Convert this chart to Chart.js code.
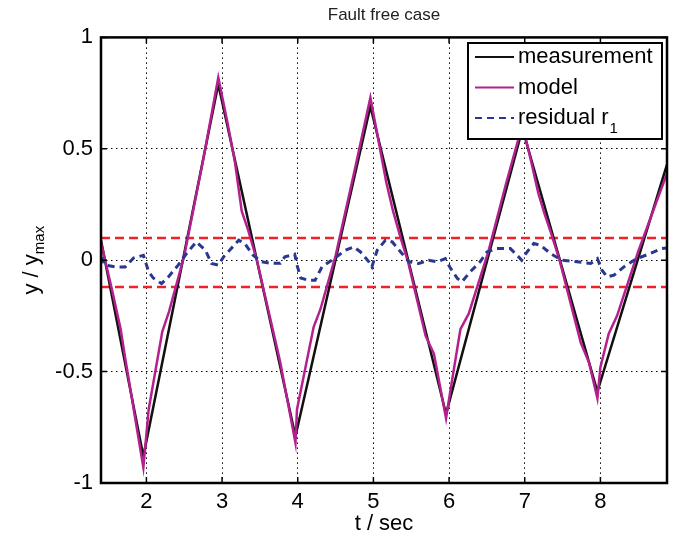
<!DOCTYPE html>
<html>
<head>
<meta charset="utf-8">
<script src="https://cdn.jsdelivr.net/npm/chart.js@4.4.1/dist/chart.umd.min.js"></script>
<style>
  body { margin: 0; background: #fff; }
  #wrap { width: 678px; height: 538px; }
</style>
</head>
<body>
<div id="wrap"><canvas id="myChart" width="678" height="538"></canvas></div>
<script>
// measurement (black)
const tMeas = [1.40, 1.96, 2.95, 3.97, 4.96, 5.96, 6.97, 7.96, 8.88];
const yMeas = [0.09, -0.88, 0.79, -0.79, 0.69, -0.69, 0.59, -0.59, 0.43];

// model (magenta)
const tModel = [1.40, 1.55, 1.66, 1.72, 1.96, 2.03, 2.21, 2.30, 2.50, 2.75, 2.95,
  3.07, 3.17, 3.26, 3.34, 3.46, 3.73, 3.77, 3.97, 3.99, 4.21, 4.30, 4.50, 4.75, 4.96,
  5.06, 5.17, 5.26, 5.36, 5.46, 5.69, 5.80, 5.96, 6.02, 6.15, 6.26, 6.52, 6.75, 6.97,
  7.08, 7.18, 7.26, 7.34, 7.46, 7.74, 7.85, 7.96, 8.00, 8.11, 8.22, 8.50, 8.75, 8.88];
const yModel = [0.08, -0.14, -0.31, -0.44, -0.93, -0.67, -0.32, -0.23, 0.02, 0.45, 0.82,
  0.62, 0.44, 0.22, 0.14, 0.00, -0.40, -0.46, -0.82, -0.67, -0.30, -0.22, 0.02, 0.40, 0.73,
  0.55, 0.35, 0.22, 0.10, -0.01, -0.34, -0.42, -0.71, -0.58, -0.31, -0.24, 0.04, 0.34, 0.61,
  0.45, 0.30, 0.21, 0.13, 0.00, -0.37, -0.46, -0.62, -0.48, -0.33, -0.25, 0.04, 0.27, 0.39];

// residual r1 (blue dashed)
const tRes = [1.40, 1.45, 1.59, 1.72, 1.83, 1.96, 2.03, 2.09, 2.20, 2.29, 2.42, 2.53, 2.66,
  2.78, 2.86, 2.95, 3.02, 3.10, 3.22, 3.30, 3.41, 3.52, 3.65, 3.77, 3.83, 3.96, 3.99, 4.04,
  4.14, 4.23, 4.32, 4.48, 4.63, 4.74, 4.83, 4.94, 4.98, 5.05, 5.16, 5.25, 5.36, 5.47, 5.60,
  5.73, 5.84, 5.95, 6.02, 6.11, 6.17, 6.28, 6.41, 6.50, 6.63, 6.81, 6.90, 6.96, 7.03, 7.12,
  7.21, 7.34, 7.49, 7.69, 7.87, 7.96, 8.02, 8.09, 8.18, 8.31, 8.48, 8.66, 8.81, 8.88];
const yRes = [0.015, -0.022, -0.03, -0.03, 0.01, 0.022, -0.052, -0.08, -0.105, -0.075, -0.022, 0.03, 0.082,
  0.045, -0.015, -0.022, 0.015, 0.045, 0.09, 0.075, 0.022, -0.007, -0.014, -0.014, 0.015, 0.027, -0.022, -0.08,
  -0.09, -0.09, -0.03, 0.007, 0.045, 0.06, 0.037, -0.007, -0.03, 0.045, 0.09, 0.082, 0.037, -0.007, -0.015,
  0, -0.007, 0.007, -0.037, -0.082, -0.097, -0.052, -0.007, 0.037, 0.052, 0.052, 0.022, 0, 0.037, 0.075,
  0.067, 0.03, 0, -0.007, -0.015, 0.007, -0.045, -0.075, -0.067, -0.03, 0.007, 0.03, 0.052, 0.055];

// thresholds (red dashed)
const tLimits = [1.40, 8.88];
const upperLimit = 0.1;
const lowerLimit = -0.12;

const xTicks = [2, 3, 4, 5, 6, 7, 8];
const yTicks = [-1, -0.5, 0, 0.5, 1];

const FONT = '"Liberation Sans", Arial, Helvetica, sans-serif';
const pts = (xs, ys) => xs.map((x, i) => ({ x: x, y: ys[i] }));

// frame box with inward ticks, y label with subscript, legend on top
const matlabBits = {
  id: 'matlabBits',
  afterDraw(chart) {
    const ctx = chart.ctx;
    const a = chart.chartArea;
    const xs = chart.scales.x, ys = chart.scales.y;
    ctx.save();
    // inward ticks
    ctx.strokeStyle = '#000';
    ctx.lineWidth = 1.5;
    ctx.setLineDash([]);
    ctx.beginPath();
    xTicks.forEach(v => {
      const px = xs.getPixelForValue(v);
      ctx.moveTo(px, a.bottom); ctx.lineTo(px, a.bottom - 6);
      ctx.moveTo(px, a.top); ctx.lineTo(px, a.top + 6);
    });
    yTicks.forEach(v => {
      const py = ys.getPixelForValue(v);
      ctx.moveTo(a.left, py); ctx.lineTo(a.left + 6, py);
      ctx.moveTo(a.right, py); ctx.lineTo(a.right - 6, py);
    });
    ctx.stroke();
    // frame
    ctx.lineWidth = 2.5;
    ctx.strokeRect(a.left, a.top, a.right - a.left, a.bottom - a.top);

    // y axis title
    ctx.save();
    ctx.translate(30, (a.top + a.bottom) / 2);
    ctx.rotate(-Math.PI / 2);
    ctx.fillStyle = '#000';
    ctx.textBaseline = 'alphabetic';
    ctx.font = '22px ' + FONT;
    const main = 'y / y';
    const w1 = ctx.measureText(main).width;
    ctx.font = '15px ' + FONT;
    const w2 = ctx.measureText('max').width;
    const sx = -(w1 + w2) / 2;
    ctx.font = '22px ' + FONT;
    ctx.fillText(main, sx, 8);
    ctx.font = '15px ' + FONT;
    ctx.fillText('max', sx + w1, 14);
    ctx.restore();

    // legend
    const lx = 468, ly = 43, lw = 194, lh = 96;
    ctx.fillStyle = '#fff';
    ctx.fillRect(lx, ly, lw, lh);
    ctx.lineWidth = 2;
    ctx.strokeStyle = '#000';
    ctx.strokeRect(lx, ly, lw, lh);
    const items = chart.data.datasets.filter(d => d.legendRow !== undefined)
      .sort((p, q) => p.legendRow - q.legendRow);
    items.forEach((d, i) => {
      const yy = ly + 14 + i * 30.5;
      ctx.strokeStyle = d.borderColor;
      ctx.lineWidth = 2;
      ctx.setLineDash(d.borderDash || []);
      ctx.beginPath();
      ctx.moveTo(lx + 7, yy);
      ctx.lineTo(lx + 46, yy);
      ctx.stroke();
      ctx.setLineDash([]);
      ctx.fillStyle = '#000';
      ctx.font = '22px ' + FONT;
      ctx.textBaseline = 'middle';
      ctx.fillText(d.label, lx + 50, yy);
      if (d.sub) {
        const w = ctx.measureText(d.label).width;
        ctx.font = '15px ' + FONT;
        ctx.fillText(d.sub, lx + 50 + w + 1, yy + 11);
      }
    });
    ctx.restore();
  }
};

const ctx = document.getElementById('myChart');
new Chart(ctx, {
  type: 'line',
  data: {
    datasets: [
      {
        label: 'residual r', sub: '1', legendRow: 2,
        data: pts(tRes, yRes),
        borderColor: '#283790', borderWidth: 3, borderDash: [7, 5],
        pointRadius: 0, tension: 0, order: 0
      },
      {
        label: 'model', legendRow: 1,
        data: pts(tModel, yModel),
        borderColor: '#b5208f', borderWidth: 2.5,
        pointRadius: 0, tension: 0, order: 1
      },
      {
        label: 'measurement', legendRow: 0,
        data: pts(tMeas, yMeas),
        borderColor: '#111111', borderWidth: 2.5,
        pointRadius: 0, tension: 0, order: 2
      },
      {
        label: 'upper',
        data: tLimits.map(x => ({ x: x, y: upperLimit })),
        borderColor: '#ee2229', borderWidth: 2.5, borderDash: [9, 5],
        pointRadius: 0, order: 3
      },
      {
        label: 'lower',
        data: tLimits.map(x => ({ x: x, y: lowerLimit })),
        borderColor: '#ee2229', borderWidth: 2.5, borderDash: [9, 5],
        pointRadius: 0, order: 3
      }
    ]
  },
  options: {
    responsive: false,
    animation: false,
    layout: { padding: { left: 0, right: 11, top: 0, bottom: 0 } },
    plugins: {
      legend: { display: false },
      tooltip: { enabled: false },
      title: {
        display: true,
        fullSize: false,
        text: 'Fault free case',
        color: '#222',
        font: { family: FONT, size: 17, weight: 'normal' },
        padding: { top: 5, bottom: 12 }
      }
    },
    scales: {
      x: {
        type: 'linear',
        min: 1.4, max: 8.88,
        afterBuildTicks: (s) => { s.ticks = xTicks.map(v => ({ value: v })); },
        afterFit: (s) => { s.height = 55; },
        ticks: { color: '#000', padding: 6, font: { family: FONT, size: 22 },
          callback: (v) => String(v) },
        grid: { color: '#000', lineWidth: 1, drawTicks: false },
        border: { display: false, dash: [1.5, 3.5] },
        title: {
          display: true, text: 't / sec', color: '#000',
          font: { family: FONT, size: 22 }, padding: { top: 0, bottom: 1 }
        }
      },
      y: {
        min: -1, max: 1,
        afterBuildTicks: (s) => { s.ticks = yTicks.map(v => ({ value: v })); },
        afterFit: (s) => { s.width = 101; },
        ticks: { color: '#000', padding: 8, font: { family: FONT, size: 22 },
          callback: (v) => String(v) },
        grid: { color: '#000', lineWidth: 1, drawTicks: false },
        border: { display: false, dash: [1.5, 3.5] }
      }
    }
  },
  plugins: [matlabBits]
});
</script>
</body>
</html>
